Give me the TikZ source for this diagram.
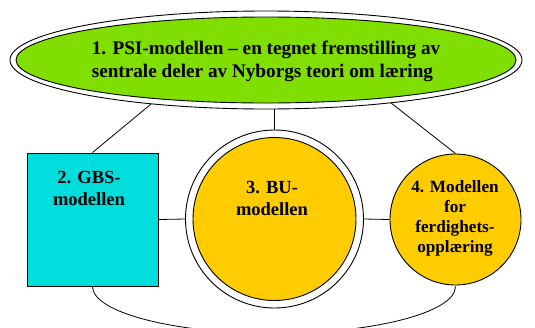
\documentclass[tikz,border=0pt]{standalone}
\usepackage{fontspec}
\setmainfont{Liberation Serif}
\usetikzlibrary{shapes.geometric}
\definecolor{psigreen}{RGB}{128,222,0}
\definecolor{gbscyan}{RGB}{0,221,221}
\definecolor{buyellow}{RGB}{255,204,0}
\tikzset{
  edge/.style={draw=black, line width=0.8pt},
  shapeline/.style={draw=black, line width=0.9pt, inner sep=0pt},
  lbl/.style={font=\bfseries\fontsize{18.5}{22}\selectfont, align=center, inner sep=0pt},
}
\begin{document}
\begin{tikzpicture}[x=1pt,y=-1pt]
\useasboundingbox (0,0) rectangle (535,327);
\clip (0,0) rectangle (535,327);
% ellipse
\node[ellipse, shapeline, fill=white, minimum width=512pt, minimum height=98pt] (psi) at (266,60) {};
\node[ellipse, shapeline, fill=psigreen, minimum width=500pt, minimum height=86pt] (psiin) at (266,60) {};
\node[font=\bfseries\fontsize{19.2}{23}\selectfont, align=left, inner sep=0pt] (psitxt) at (266,61.5)
  {1. PSI-modellen -- en tegnet fremstilling av\\sentrale deler av Nyborgs teori om læring};
% square
\node[shapeline, fill=gbscyan, minimum width=131pt, minimum height=133pt] (gbs) at (92.5,219.5) {};
\node[lbl] (gbstxt) at (89,188) {2. GBS-\\modellen};
% circle 3
\node[circle, shapeline, fill=white, minimum size=178pt] (bu) at (274.5,219) {};
\node[circle, shapeline, fill=buyellow, minimum size=163pt] (buin) at (274.5,219) {};
\node[lbl] (butxt) at (272,198) {3. BU-\\modellen};
% circle 4
\node[circle, shapeline, fill=buyellow, minimum size=131pt] (ferd) at (455.5,219.5) {};
\node[lbl, font=\bfseries\fontsize{17.2}{20}\selectfont] (ferdtxt) at (455,218)
  {4. Modellen\\for\\ferdighets-\\opplæring};
% connectors
\draw[edge] (psi.201) -- (gbs.north);
\draw[edge] (psi.341) -- (ferd.north);
\draw[edge] (bu.north) -- (bu.north |- psi.south);
\draw[edge] (gbs.east) -- (bu.west);
\draw[edge] (bu.east) -- (ferd.west);
\draw[edge] (gbs.south) arc[start angle=180, end angle=360, x radius=181.5pt, y radius=47pt];
\end{tikzpicture}
\end{document}
